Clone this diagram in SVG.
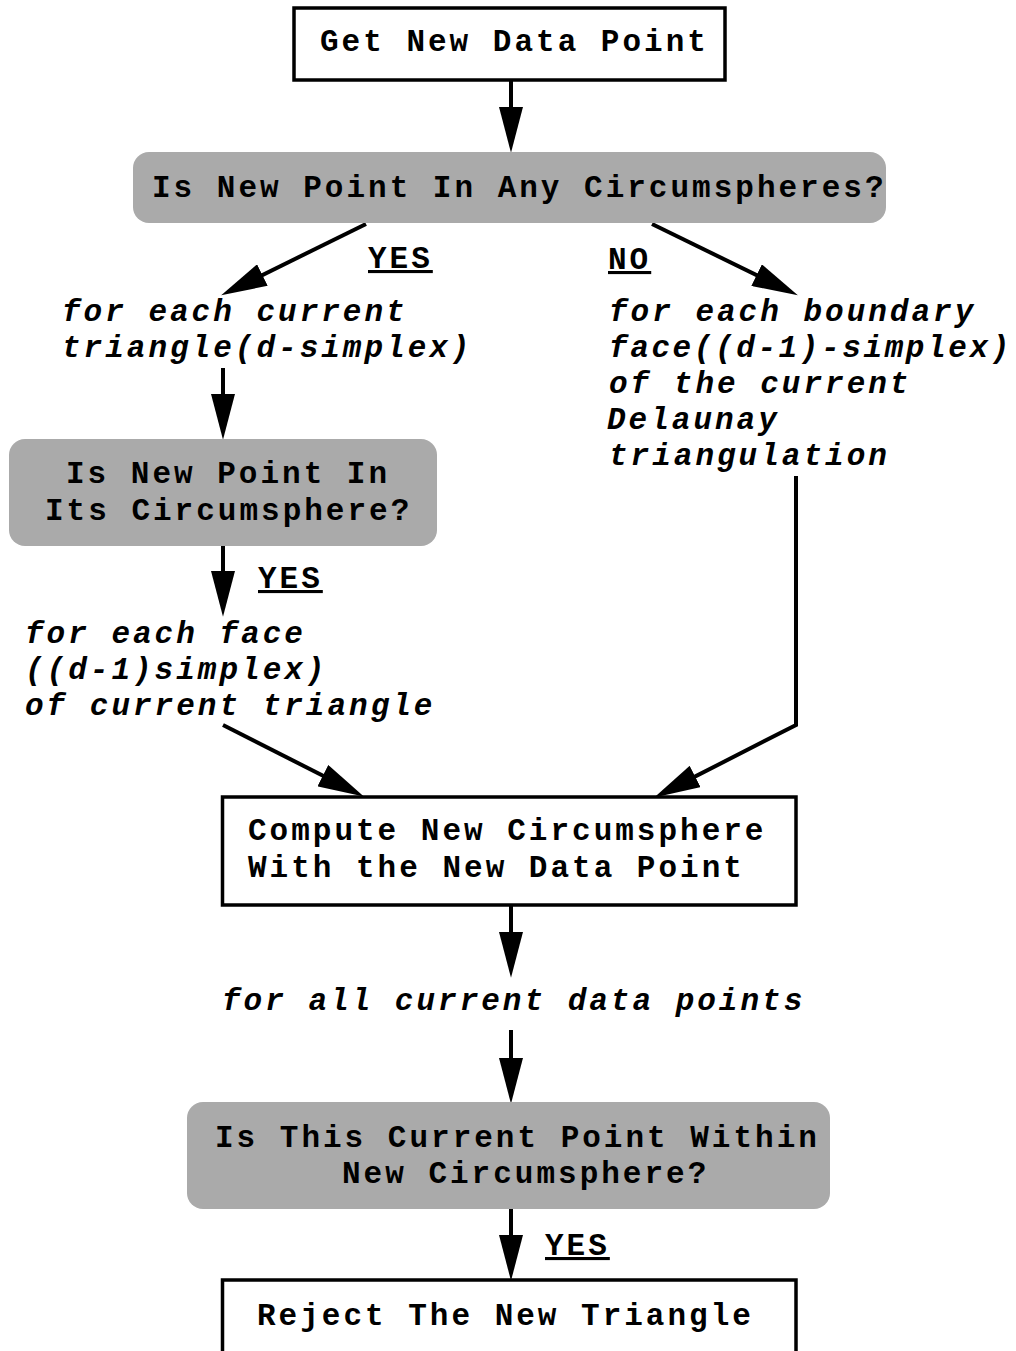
<svg xmlns="http://www.w3.org/2000/svg" width="1016" height="1351" viewBox="0 0 1016 1351">
<style>
  .box { fill: #ffffff; stroke: #000000; stroke-width: 3.5; }
  .dec { fill: #aaaaaa; stroke: none; }
  .t { font-family: "Liberation Mono", "Courier New", monospace; font-weight: bold; font-size: 31px; letter-spacing: 3px; fill: #000000; }
  .i { font-style: italic; }
  .u { text-decoration: underline; }
  .c { fill: none; stroke: #000000; stroke-width: 4; }
</style>
<defs>
  <marker id="ah" markerUnits="userSpaceOnUse" markerWidth="46" markerHeight="24" viewBox="0 0 44 23" refX="24" refY="11.5" orient="auto">
    <path d="M0,0 L44,11.5 L0,23 z" fill="#000000"/>
  </marker>
</defs>
<rect width="1016" height="1351" fill="#ffffff"/>

<g id="connectors">
  <line class="c" x1="511" y1="81" x2="511" y2="132" marker-end="url(#ah)"/>
  <line class="c" x1="366" y1="224" x2="239.9" y2="286.1" marker-end="url(#ah)"/>
  <line class="c" x1="652" y1="224" x2="779.1" y2="286.1" marker-end="url(#ah)"/>
  <line class="c" x1="223" y1="368" x2="223" y2="419" marker-end="url(#ah)"/>
  <line class="c" x1="223" y1="546" x2="223" y2="596" marker-end="url(#ah)"/>
  <line class="c" x1="223" y1="725" x2="345.2" y2="787" marker-end="url(#ah)"/>
  <polyline class="c" points="796,476 796,725 672.8,787.9" marker-end="url(#ah)"/>
  <line class="c" x1="511" y1="905" x2="511" y2="957" marker-end="url(#ah)"/>
  <line class="c" x1="511" y1="1030" x2="511" y2="1083" marker-end="url(#ah)"/>
  <line class="c" x1="511" y1="1209" x2="511" y2="1260" marker-end="url(#ah)"/>
</g>

<g id="n1">
  <rect class="box" x="294" y="8" width="431" height="72"/>
  <text class="t" x="320" y="51">Get New Data Point</text>
</g>

<g id="n2">
  <rect class="dec" x="133" y="152" width="753" height="71" rx="16"/>
  <text class="t" x="152" y="197">Is New Point In Any Circumspheres?</text>
</g>

<g id="lbl-yes1">
  <text class="t u" x="368" y="268">YES</text>
</g>
<g id="lbl-no">
  <text class="t u" x="608" y="269">NO</text>
</g>

<g id="n3">
  <text class="t i" x="62" y="321">for each current</text>
  <text class="t i" x="62" y="357">triangle(d-simplex)</text>
</g>

<g id="n4">
  <text class="t i" x="609" y="321">for each boundary</text>
  <text class="t i" x="609" y="357" style="letter-spacing:2.6px">face((d-1)-simplex)</text>
  <text class="t i" x="609" y="393">of the current</text>
  <text class="t i" x="607" y="429">Delaunay</text>
  <text class="t i" x="609" y="465">triangulation</text>
</g>

<g id="n5">
  <rect class="dec" x="9" y="439" width="428" height="107" rx="16"/>
  <text class="t" x="66" y="483">Is New Point In</text>
  <text class="t" x="45" y="520">Its Circumsphere?</text>
</g>

<g id="lbl-yes2">
  <text class="t u" x="258" y="588">YES</text>
</g>

<g id="n6">
  <text class="t i" x="25" y="643">for each face</text>
  <text class="t i" x="25" y="679">((d-1)simplex)</text>
  <text class="t i" x="25" y="715">of current triangle</text>
</g>

<g id="n7">
  <rect class="box" x="222.5" y="797" width="573.5" height="108"/>
  <text class="t" x="248" y="840">Compute New Circumsphere</text>
  <text class="t" x="248" y="877">With the New Data Point</text>
</g>

<g id="n8">
  <text class="t i" x="222" y="1010">for all current data points</text>
</g>

<g id="n9">
  <rect class="dec" x="187" y="1102" width="643" height="107" rx="16"/>
  <text class="t" x="215" y="1147">Is This Current Point Within</text>
  <text class="t" x="342" y="1183">New Circumsphere?</text>
</g>

<g id="lbl-yes3">
  <text class="t u" x="545" y="1255">YES</text>
</g>

<g id="n10">
  <rect class="box" x="222.5" y="1280" width="573.5" height="74"/>
  <text class="t" x="257" y="1325">Reject The New Triangle</text>
</g>
</svg>
